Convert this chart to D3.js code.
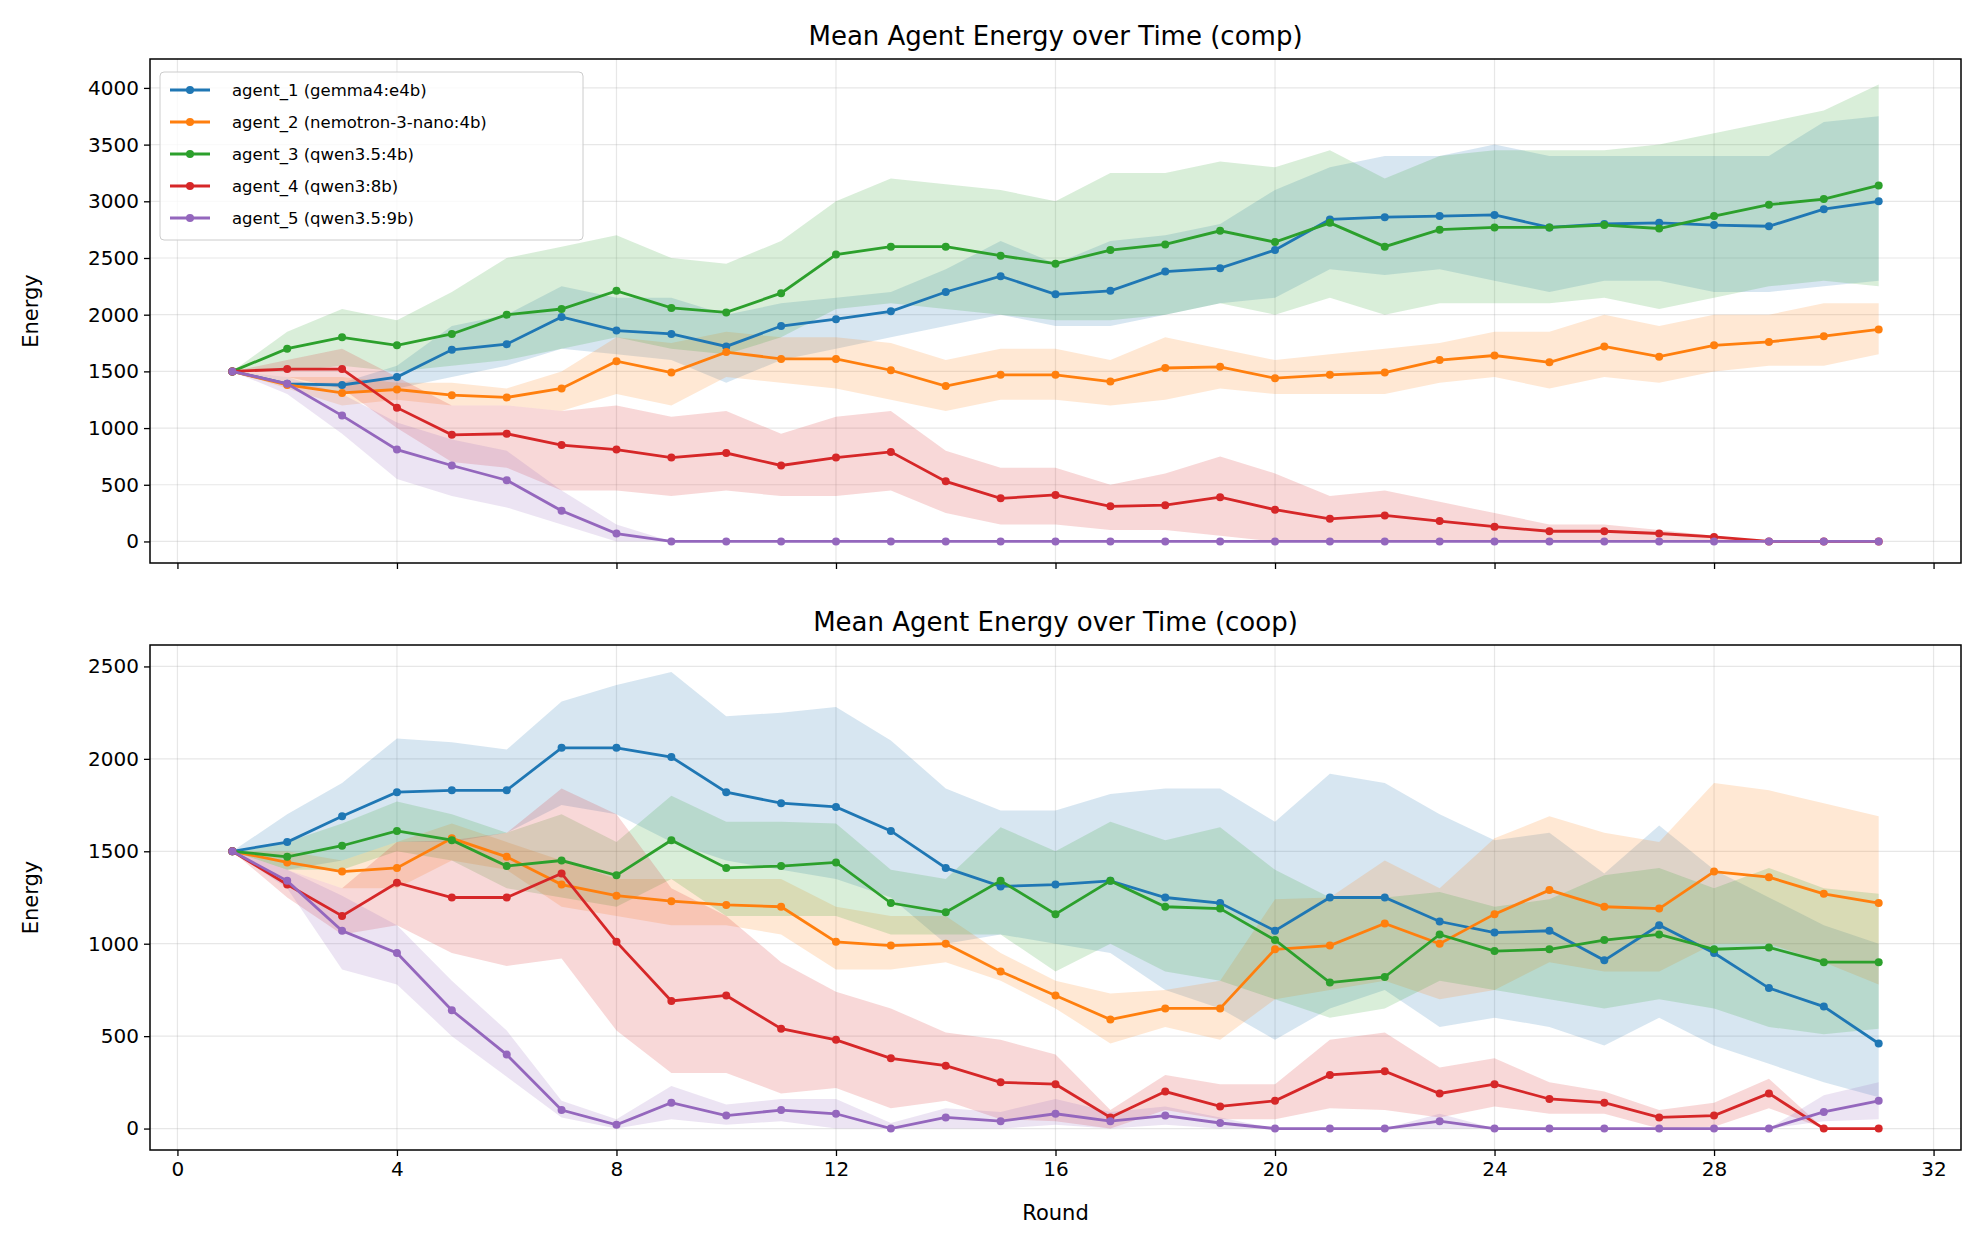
<!DOCTYPE html>
<html><head><meta charset="utf-8">
<script src="https://cdn.jsdelivr.net/npm/d3@7"></script>
<style>body{margin:0;background:#fff}svg{font-family:"DejaVu Sans",sans-serif}</style>
</head><body><svg id="c" width="1980" height="1258"></svg>
<script>
const rounds = d3.range(1, 32);
const names = ["agent_1 (gemma4:e4b)","agent_2 (nemotron-3-nano:4b)","agent_3 (qwen3.5:4b)","agent_4 (qwen3:8b)","agent_5 (qwen3.5:9b)"];
const colors = ["#1f77b4","#ff7f0e","#2ca02c","#d62728","#9467bd"];
const xTicks = [0,4,8,12,16,20,24,28,32];

// comp
const comp1 = [1500,1390,1380,1450,1690,1740,1980,1860,1830,1720,1900,1960,2030,2200,2340,2180,2210,2380,2410,2570,2840,2860,2870,2880,2770,2800,2810,2790,2780,2930,3000];
const comp1Lo = [1500,1400,1300,1350,1450,1550,1700,1650,1600,1400,1600,1700,1800,1900,2000,1900,1900,2000,2100,2150,2400,2350,2400,2300,2200,2300,2300,2200,2200,2250,2300];
const comp1Hi = [1500,1400,1400,1550,1900,2000,2250,2150,2150,2000,2100,2150,2200,2400,2650,2450,2650,2700,2800,3100,3300,3400,3400,3500,3400,3400,3400,3400,3400,3700,3750];
const comp2 = [1500,1380,1310,1340,1290,1270,1350,1590,1490,1670,1610,1610,1510,1370,1470,1470,1410,1530,1540,1440,1470,1490,1600,1640,1580,1720,1630,1730,1760,1810,1870];
const comp2Lo = [1500,1350,1200,1250,1200,1200,1150,1300,1200,1450,1400,1350,1250,1150,1250,1250,1200,1250,1350,1300,1300,1300,1400,1450,1350,1450,1400,1500,1550,1550,1650];
const comp2Hi = [1500,1450,1450,1400,1400,1350,1500,1800,1750,1850,1800,1800,1750,1600,1700,1700,1600,1800,1700,1600,1650,1700,1750,1850,1850,2000,1900,2000,2000,2100,2100];
const comp3 = [1500,1700,1800,1730,1830,2000,2050,2210,2060,2020,2190,2530,2600,2600,2520,2450,2570,2620,2740,2640,2810,2600,2750,2770,2770,2790,2760,2870,2970,3020,3140];
const comp3Lo = [1500,1500,1550,1500,1550,1600,1700,1800,1700,1650,1800,2050,2100,2050,2000,1950,1950,2000,2100,2000,2150,2000,2100,2100,2100,2150,2050,2150,2250,2300,2250];
const comp3Hi = [1500,1850,2050,1950,2200,2500,2600,2700,2500,2450,2650,3000,3200,3150,3100,3000,3250,3250,3350,3300,3450,3200,3400,3450,3450,3450,3500,3600,3700,3800,4030];
const comp4 = [1500,1520,1520,1180,940,950,850,810,740,780,670,740,790,530,380,410,310,320,390,280,200,230,180,130,90,90,70,40,0,0,0];
const comp4Lo = [1500,1450,1350,1000,700,650,450,450,400,450,400,400,450,250,150,150,100,100,50,0,0,0,0,0,0,0,0,0,0,0,0];
const comp4Hi = [1500,1600,1700,1450,1200,1200,1150,1200,1100,1150,950,1100,1150,800,650,650,500,600,750,600,400,450,350,250,150,150,100,50,0,0,0];
const comp5 = [1500,1390,1110,810,670,540,270,70,0,0,0,0,0,0,0,0,0,0,0,0,0,0,0,0,0,0,0,0,0,0,0];
const comp5Lo = [1500,1300,950,550,400,300,150,0,0,0,0,0,0,0,0,0,0,0,0,0,0,0,0,0,0,0,0,0,0,0,0];
const comp5Hi = [1500,1450,1300,1050,900,800,450,150,0,0,0,0,0,0,0,0,0,0,0,0,0,0,0,0,0,0,0,0,0,0,0];
const compTicks = [0,500,1000,1500,2000,2500,3000,3500,4000];

// coop
const coop1 = [1500,1550,1690,1820,1830,1830,2060,2060,2010,1820,1760,1740,1610,1410,1310,1320,1340,1250,1220,1070,1250,1250,1120,1060,1070,910,1100,950,760,660,460];
const coop1Lo = [1500,1400,1450,1550,1550,1600,1750,1700,1550,1450,1400,1350,1250,1000,1050,1000,950,750,650,480,650,750,550,600,550,450,600,450,350,250,170];
const coop1Hi = [1500,1700,1870,2110,2090,2050,2310,2400,2470,2230,2250,2280,2100,1840,1720,1720,1810,1840,1840,1660,1920,1870,1700,1560,1600,1380,1640,1400,1250,1100,1000];
const coop2 = [1500,1440,1390,1410,1570,1470,1320,1260,1230,1210,1200,1010,990,1000,850,720,590,650,650,970,990,1110,1000,1160,1290,1200,1190,1390,1360,1270,1220];
const coop2Lo = [1500,1400,1300,1300,1450,1400,1200,1150,1100,1100,1050,860,860,900,800,650,460,550,480,700,750,800,700,750,900,850,850,1000,1000,900,780];
const coop2Hi = [1500,1500,1450,1550,1650,1550,1450,1350,1350,1350,1350,1200,1150,1150,950,800,730,750,800,1240,1250,1450,1300,1570,1690,1600,1550,1870,1830,1760,1690];
const coop3 = [1500,1470,1530,1610,1560,1420,1450,1370,1560,1410,1420,1440,1220,1170,1340,1160,1340,1200,1190,1020,790,820,1050,960,970,1020,1050,970,980,900,900];
const coop3Lo = [1500,1400,1400,1500,1450,1300,1250,1200,1350,1150,1150,1150,1050,1050,1050,850,1000,850,800,700,600,650,800,750,700,650,700,650,550,510,540];
const coop3Hi = [1500,1550,1650,1770,1700,1600,1700,1550,1800,1660,1660,1650,1400,1350,1630,1500,1660,1560,1630,1400,1250,1250,1280,1200,1240,1370,1410,1300,1410,1300,1270];
const coop4 = [1500,1320,1150,1330,1250,1250,1380,1010,690,720,540,480,380,340,250,240,60,200,120,150,290,310,190,240,160,140,60,70,190,0,0];
const coop4Lo = [1500,1250,1050,1100,950,880,920,530,300,300,190,220,110,150,50,40,0,100,50,50,110,100,60,120,80,80,0,10,110,0,0];
const coop4Hi = [1500,1400,1300,1550,1560,1600,1840,1700,1300,1150,900,740,650,520,480,400,100,290,240,240,480,520,330,380,250,200,100,140,270,0,0];
const coop5 = [1500,1340,1070,950,640,400,100,20,140,70,100,80,0,60,40,80,40,70,30,0,0,0,40,0,0,0,0,0,0,90,150];
const coop5Lo = [1500,1300,860,780,500,280,60,0,50,20,40,0,0,0,0,20,0,20,0,0,0,0,0,0,0,0,0,0,0,40,50];
const coop5Hi = [1500,1400,1260,1100,800,530,150,50,230,130,160,160,30,110,90,160,90,120,60,0,0,0,80,0,0,0,0,0,0,180,250];
const coopTicks = [0,500,1000,1500,2000,2500];

const svg = d3.select("#c");
const L = 150, R = 1961;
const x = d3.scaleLinear().domain([-0.5, 32.5]).range([L, R]);

function panel(top, bottom, ydom, yTicks, title, series, showX, legend) {
  const y = d3.scaleLinear().domain(ydom).range([bottom, top]);
  const g = svg.append("g");
  // grid
  g.selectAll(".gx").data(xTicks).enter().append("line")
    .attr("x1", d => x(d)).attr("x2", d => x(d)).attr("y1", top).attr("y2", bottom)
    .attr("stroke", "#b0b0b0").attr("stroke-opacity", 0.3).attr("stroke-width", 1.2);
  g.selectAll(".gy").data(yTicks).enter().append("line")
    .attr("x1", L).attr("x2", R).attr("y1", d => y(d)).attr("y2", d => y(d))
    .attr("stroke", "#b0b0b0").attr("stroke-opacity", 0.3).attr("stroke-width", 1.2);
  series.forEach((s, i) => {
    const area = d3.area().x((d, j) => x(rounds[j])).y0((d, j) => y(s.lo[j])).y1((d, j) => y(s.hi[j]));
    g.append("path").attr("d", area(s.v)).attr("fill", colors[i]).attr("fill-opacity", 0.18);
  });
  series.forEach((s, i) => {
    const line = d3.line().x((d, j) => x(rounds[j])).y(d => y(d));
    g.append("path").attr("d", line(s.v)).attr("fill", "none").attr("stroke", colors[i]).attr("stroke-width", 2.8);
    g.selectAll(null).data(s.v).enter().append("circle")
      .attr("cx", (d, j) => x(rounds[j])).attr("cy", d => y(d)).attr("r", 4).attr("fill", colors[i]);
  });
  g.append("rect").attr("x", L).attr("y", top).attr("width", R - L).attr("height", bottom - top)
    .attr("fill", "none").attr("stroke", "#000").attr("stroke-width", 1.5);
  const ya = g.append("g").attr("transform", `translate(${L},0)`)
    .call(d3.axisLeft(y).tickValues(yTicks).tickSize(6).tickPadding(5).tickFormat(d3.format("d")));
  ya.select(".domain").remove();
  ya.selectAll("text").attr("font-size", 20).attr("fill", "#000").attr("font-family", "DejaVu Sans");
  ya.selectAll("line").attr("stroke-width", 1.3);
  const xa = g.append("g").attr("transform", `translate(0,${bottom})`)
    .call(d3.axisBottom(x).tickValues(xTicks).tickSize(6).tickPadding(6).tickFormat(showX ? d3.format("d") : ""));
  xa.select(".domain").remove();
  xa.selectAll("text").attr("font-size", 20).attr("fill", "#000").attr("font-family", "DejaVu Sans");
  xa.selectAll("line").attr("stroke-width", 1.3);
  g.append("text").attr("x", (L + R) / 2).attr("y", top - 14).attr("text-anchor", "middle")
    .attr("font-size", 26).text(title);
  g.append("text").attr("transform", `translate(38,${(top + bottom) / 2}) rotate(-90)`)
    .attr("text-anchor", "middle").attr("font-size", 21).text("Energy");
  if (legend) {
    const lg = g.append("g");
    lg.append("rect").attr("x", 160).attr("y", 72).attr("width", 423).attr("height", 168).attr("rx", 4)
      .attr("fill", "#fff").attr("fill-opacity", 0.8).attr("stroke", "#ccc");
    names.forEach((n, i) => {
      const yy = 90 + i * 32;
      lg.append("line").attr("x1", 170).attr("x2", 210).attr("y1", yy).attr("y2", yy).attr("stroke", colors[i]).attr("stroke-width", 2.8);
      lg.append("circle").attr("cx", 190).attr("cy", yy).attr("r", 4).attr("fill", colors[i]);
      lg.append("text").attr("x", 232).attr("y", yy + 6).attr("font-size", 16.5).text(n);
    });
  }
  if (showX) {
    g.append("text").attr("x", (L + R) / 2).attr("y", bottom + 70).attr("text-anchor", "middle")
      .attr("font-size", 21).text("Round");
  }
}

panel(59, 563, [-190, 4255], compTicks, "Mean Agent Energy over Time (comp)", [
  {v: comp1, lo: comp1Lo, hi: comp1Hi}, {v: comp2, lo: comp2Lo, hi: comp2Hi},
  {v: comp3, lo: comp3Lo, hi: comp3Hi}, {v: comp4, lo: comp4Lo, hi: comp4Hi},
  {v: comp5, lo: comp5Lo, hi: comp5Hi}], false, true);
panel(645, 1150, [-116, 2616], coopTicks, "Mean Agent Energy over Time (coop)", [
  {v: coop1, lo: coop1Lo, hi: coop1Hi}, {v: coop2, lo: coop2Lo, hi: coop2Hi},
  {v: coop3, lo: coop3Lo, hi: coop3Hi}, {v: coop4, lo: coop4Lo, hi: coop4Hi},
  {v: coop5, lo: coop5Lo, hi: coop5Hi}], true, false);
</script></body></html>
